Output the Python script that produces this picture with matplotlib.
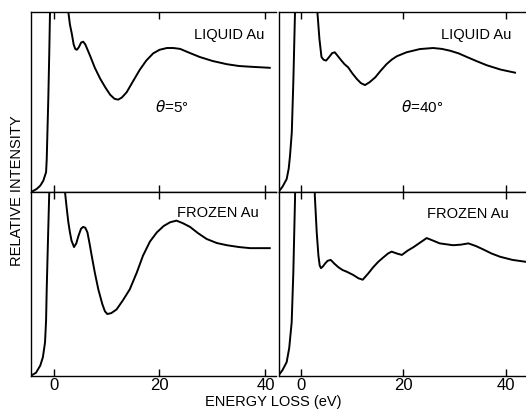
import matplotlib
matplotlib.use("Agg")
import matplotlib.pyplot as plt

plt.rcParams['font.family'] = ['Liberation Sans', 'DejaVu Sans']

# Liquid Au, theta = 5 deg
liq5_x = [-4.2, -3.17, -2.5, -1.92, -1.4, -1.28, -1.13, -0.98, -0.8, -0.66, -0.5, 0.0,
          2.4, 2.6, 2.8, 3.1, 3.45, 3.8, 4.1, 4.4, 4.8, 5.2, 5.6, 6.0, 6.5, 6.9, 7.8, 8.8,
          9.8, 10.7, 11.5, 12.2, 12.9, 13.8, 15.0, 16.3, 17.5, 18.8, 20.0, 21.4, 22.6,
          23.9, 25.5, 27.6, 30.0, 32.7, 35.0, 37.1, 40.8]
liq5_y = [0.0, 0.017, 0.035, 0.063, 0.11, 0.18, 0.35, 0.52, 0.77, 1.0, 1.25, 1.8,
          1.8, 1.2, 1.0, 0.93, 0.88, 0.82, 0.795, 0.79, 0.805, 0.83, 0.835, 0.82, 0.785,
          0.757, 0.69, 0.63, 0.58, 0.54, 0.518, 0.513, 0.525, 0.554, 0.615, 0.68, 0.73,
          0.77, 0.79, 0.80, 0.80, 0.795, 0.775, 0.75, 0.728, 0.71, 0.70, 0.696, 0.69]

# Liquid Au, theta = 40 deg
liq40_x = [-4.4, -3.6, -2.8, -2.4, -2.15, -1.8, -1.5, -1.17, -1.0, -0.5,
           2.5, 2.9, 3.2, 3.6, 4.0, 4.4, 4.9, 5.5, 6.1, 6.6, 7.2, 7.9, 8.5, 9.2, 10.0,
           10.9, 11.7, 12.5, 13.4, 14.5, 15.6, 16.7, 17.7, 18.7, 20.6, 23.2, 25.8, 27.5,
           29.1, 30.8, 32.4, 34.3, 36.3, 39.0, 41.8]
liq40_y = [0.0, 0.03, 0.072, 0.13, 0.2, 0.33, 0.61, 1.0, 1.3, 1.8,
           1.8, 1.3, 1.0, 0.85, 0.75, 0.735, 0.73, 0.75, 0.772, 0.776, 0.755, 0.73, 0.71,
           0.693, 0.66, 0.628, 0.605, 0.594, 0.61, 0.637, 0.675, 0.71, 0.735, 0.754, 0.776,
           0.794, 0.80, 0.795, 0.785, 0.77, 0.75, 0.727, 0.704, 0.68, 0.663]

# Frozen Au, theta = 5 deg
fro5_x = [-4.2, -3.3, -2.5, -2.0, -1.6, -1.4, -1.28, -1.05, -0.8, -0.6, 0.0,
          1.8, 2.0, 2.17, 2.5, 2.8, 3.1, 3.4, 3.87, 4.3, 4.7, 5.2, 5.6, 6.0, 6.4, 6.8, 7.2,
          7.8, 8.45, 9.2, 9.7, 10.15, 10.9, 11.9, 13.1, 14.4, 15.7, 16.9, 18.2, 19.5, 20.8,
          22.0, 23.2, 24.4, 25.75, 27.3, 28.9, 30.8, 32.7, 35.0, 37.1, 40.8]
fro5_y = [0.0, 0.015, 0.054, 0.1, 0.18, 0.3, 0.47, 0.73, 1.0, 1.3, 1.8,
          1.8, 1.3, 1.0, 0.91, 0.835, 0.78, 0.735, 0.70, 0.72, 0.76, 0.80, 0.81, 0.805,
          0.78, 0.72, 0.654, 0.56, 0.47, 0.39, 0.35, 0.335, 0.34, 0.36, 0.41, 0.47, 0.56,
          0.654, 0.73, 0.78, 0.815, 0.835, 0.844, 0.83, 0.81, 0.775, 0.744, 0.722, 0.71,
          0.70, 0.694, 0.694]

# Frozen Au, theta = 40 deg
fro40_x = [-4.4, -3.6, -2.8, -2.3, -1.82, -1.5, -1.17, -1.0, -0.5,
           2.4, 2.6, 2.7, 3.07, 3.4, 3.65, 3.9, 4.3, 4.7, 5.2, 5.8, 6.5, 7.3, 8.1, 8.9, 10.2,
           11.2, 12.05, 13.1, 14.1, 15.1, 16.1, 17.0, 17.7, 18.7, 19.7, 20.8, 22.0, 23.3,
           24.55, 25.8, 27.1, 29.7, 31.2, 32.7, 34.2, 35.6, 37.2, 38.9, 41.3, 43.8]
fro40_y = [0.0, 0.03, 0.073, 0.15, 0.29, 0.56, 0.96, 1.3, 1.8,
           1.8, 1.3, 0.98, 0.78, 0.654, 0.60, 0.585, 0.595, 0.61, 0.625, 0.63, 0.61, 0.59,
           0.575, 0.566, 0.548, 0.53, 0.522, 0.555, 0.59, 0.62, 0.644, 0.665, 0.675, 0.665,
           0.657, 0.68, 0.70, 0.725, 0.749, 0.735, 0.72, 0.71, 0.713, 0.72, 0.705, 0.687,
           0.665, 0.647, 0.63, 0.62]

xticks = [0, 20, 40]
xtick_labels = ["0", "20", "40"]

W, H = 526, 410
fig = plt.figure(figsize=(W / 100, H / 100), dpi=100)

def frac(x0, y0, x1, y1):
    return [x0 / W, 1 - y1 / H, (x1 - x0) / W, (y1 - y0) / H]

top_y0, mid_y, bot_y = 13, 193, 376.5
lx0, lx1 = 31, 276
rx0, rx1 = 279, 526
lxlim = (-(53.5 - lx0) / 5.3, (lx1 - 53.5) / 5.3)
rxlim = (-(301 - rx0) / 5.12, (rx1 - 301) / 5.12)

panels = [
    (frac(lx0, top_y0, lx1, mid_y), lxlim, liq5_x, liq5_y, False),
    (frac(rx0, top_y0, rx1, mid_y), rxlim, liq40_x, liq40_y, False),
    (frac(lx0, mid_y, lx1, bot_y), lxlim, fro5_x, fro5_y, True),
    (frac(rx0, mid_y, rx1, bot_y), rxlim, fro40_x, fro40_y, True),
]

axes = []
for rect, xlim, xs, ys, bottom in panels:
    ax = fig.add_axes(rect)
    ax.plot(xs, ys, color='black', lw=1.4, solid_joinstyle='round')
    ax.set_xlim(*xlim)
    ax.set_ylim(0, 1)
    ax.set_yticks([])
    ax.set_xticks(xticks)
    ax.tick_params(axis='x', direction='in', length=5, width=1.0, top=True,
                   bottom=True, labelbottom=bottom, labelsize=12, pad=1)
    if bottom:
        ax.set_xticklabels(xtick_labels)
    ax.spines['right'].set_visible(False)
    for s in ['left', 'top', 'bottom']:
        ax.spines[s].set_linewidth(1.0)
    axes.append(ax)

# panel labels placed in figure pixel coordinates
def ftext(x, y, s, **kw):
    fig.text(x / W, 1 - y / H, s, **kw)

ftext(264, 35, "LIQUID Au", ha='right', va='center', fontsize=10.5)
ftext(511, 35, "LIQUID Au", ha='right', va='center', fontsize=10.5)
ftext(259, 213, "FROZEN Au", ha='right', va='center', fontsize=10.5)
ftext(509, 214, "FROZEN Au", ha='right', va='center', fontsize=10.5)
ftext(172, 107, r"$\theta$=5°", ha='center', va='center', fontsize=11)
ftext(422, 107, r"$\theta$=40°", ha='center', va='center', fontsize=11)

ftext(17, 191, "RELATIVE INTENSITY", rotation=90, ha='center', va='center',
      fontsize=10.5)
ftext(273, 402, "ENERGY LOSS (eV)", ha='center', va='center', fontsize=10.5)

fig.savefig("out.png", dpi=100)
